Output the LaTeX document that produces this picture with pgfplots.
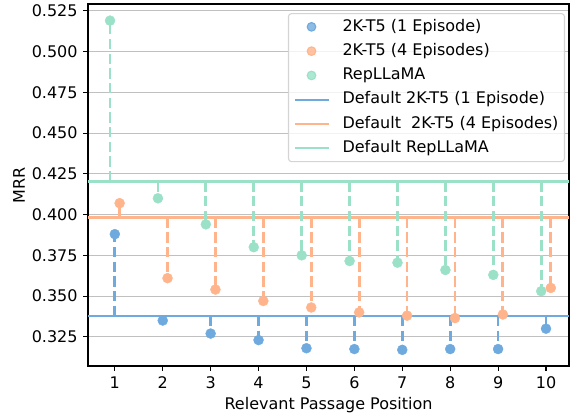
\documentclass[border=0pt]{standalone}
\usepackage{fontspec}
\setmainfont{DejaVu Sans}
\usepackage{pgfplots}
\pgfplotsset{compat=1.18}
\definecolor{cblue}{RGB}{111,170,222}
\definecolor{corange}{RGB}{255,180,140}
\definecolor{cgreen}{RGB}{155,225,200}
\definecolor{gridgray}{RGB}{192,192,192}
\definecolor{legedge}{RGB}{212,212,212}
\begin{document}
\fontsize{16}{19}\selectfont
\begin{tikzpicture}
\begin{axis}[
  scale only axis, width=481pt, height=362pt,
  xmin=0.44, xmax=10.48, ymin=0.3071, ymax=0.5292,
  xtick={1,2,3,4,5,6,7,8,9,10},
  ytick={0.325,0.350,0.375,0.400,0.425,0.450,0.475,0.500,0.525},
  yticklabel style={/pgf/number format/.cd, fixed, fixed zerofill, precision=3},
  /pgf/number format/assume math mode=true,
  tick align=outside, major tick length=4.9pt,
  tick style={black, line width=1.1pt},
  xtick pos=left, ytick pos=left,
  ymajorgrids, grid style={gridgray, line width=1.1pt},
  axis line style={line width=1.1pt},
  xlabel={Relevant Passage Position}, ylabel={MRR},
  every axis x label/.style={at={(axis description cs:0.5,-0.1215)}, anchor=base},
  every axis y label/.style={at={(axis description cs:-0.131,0.5)}, rotate=90, anchor=base},
  legend style={at={(0.9917,0.975)}, anchor=north east, draw=legedge,
    line width=1.1pt, rounded corners=3pt, fill=white, fill opacity=0.8,
    text opacity=1, cells={anchor=west}, row sep=2.8pt, column sep=12pt,
    inner xsep=5pt, inner ysep=2.5pt,
    nodes={text height=12pt, text depth=3.5pt, inner ysep=3pt, inner xsep=1pt}},
  stem/.style={line width=2.8pt, dash pattern=on 10.3pt off 4.4pt, unbounded coords=jump, forget plot},
  base/.style={line width=2.1pt, forget plot},
  pts/.style={only marks, mark=*, mark size=5pt, forget plot},
  linelegend/.style={legend image code/.code={\draw[##1] (0pt,0pt) -- (34pt,0pt);}},
  marklegend/.style={legend image code/.code={\draw[##1, only marks, mark repeat=2, mark phase=2] plot coordinates {(0pt,0pt) (17pt,0pt) (34pt,0pt)};}},
]
% baselines
\addplot[base, cblue] coordinates {(0.44,0.3378) (10.48,0.3378)};
\addplot[base, corange] coordinates {(0.44,0.3982) (10.48,0.3982)};
\addplot[base, cgreen] coordinates {(0.44,0.4203) (10.48,0.4203)};
% stems
\addplot[stem, cgreen] coordinates {
(0.9,0.4203) (0.9,0.519) (0.9,nan)
(1.9,0.4203) (1.9,0.410) (1.9,nan)
(2.9,0.4203) (2.9,0.394) (2.9,nan)
(3.9,0.4203) (3.9,0.380) (3.9,nan)
(4.9,0.4203) (4.9,0.375) (4.9,nan)
(5.9,0.4203) (5.9,0.3715) (5.9,nan)
(6.9,0.4203) (6.9,0.3705) (6.9,nan)
(7.9,0.4203) (7.9,0.366) (7.9,nan)
(8.9,0.4203) (8.9,0.363) (8.9,nan)
(9.9,0.4203) (9.9,0.353)};
\addplot[stem, corange] coordinates {
(1.1,0.3982) (1.1,0.407) (1.1,nan)
(2.1,0.3982) (2.1,0.361) (2.1,nan)
(3.1,0.3982) (3.1,0.354) (3.1,nan)
(4.1,0.3982) (4.1,0.347) (4.1,nan)
(5.1,0.3982) (5.1,0.343) (5.1,nan)
(6.1,0.3982) (6.1,0.340) (6.1,nan)
(7.1,0.3982) (7.1,0.338) (7.1,nan)
(8.1,0.3982) (8.1,0.3365) (8.1,nan)
(9.1,0.3982) (9.1,0.3387) (9.1,nan)
(10.1,0.3982) (10.1,0.355)};
\addplot[stem, cblue] coordinates {
(1,0.3378) (1,0.388) (1,nan)
(2,0.3378) (2,0.335) (2,nan)
(3,0.3378) (3,0.327) (3,nan)
(4,0.3378) (4,0.323) (4,nan)
(5,0.3378) (5,0.318) (5,nan)
(6,0.3378) (6,0.3175) (6,nan)
(7,0.3378) (7,0.317) (7,nan)
(8,0.3378) (8,0.3175) (8,nan)
(9,0.3378) (9,0.3175) (9,nan)
(10,0.3378) (10,0.330)};
% points
\addplot[pts, cgreen] coordinates {(0.9,0.519) (1.9,0.410) (2.9,0.394) (3.9,0.380) (4.9,0.375) (5.9,0.3715) (6.9,0.3705) (7.9,0.366) (8.9,0.363) (9.9,0.353)};
\addplot[pts, corange] coordinates {(1.1,0.407) (2.1,0.361) (3.1,0.354) (4.1,0.347) (5.1,0.343) (6.1,0.340) (7.1,0.338) (8.1,0.3365) (9.1,0.3387) (10.1,0.355)};
\addplot[pts, cblue] coordinates {(1,0.388) (2,0.335) (3,0.327) (4,0.323) (5,0.318) (6,0.3175) (7,0.317) (8,0.3175) (9,0.3175) (10,0.330)};
% legend
\addlegendimage{marklegend, only marks, mark=*, mark size=4.3pt, cblue}
\addlegendentry{2K-T5 (1 Episode)}
\addlegendimage{marklegend, only marks, mark=*, mark size=4.3pt, corange}
\addlegendentry{2K-T5 (4 Episodes)}
\addlegendimage{marklegend, only marks, mark=*, mark size=4.3pt, cgreen}
\addlegendentry{RepLLaMA}
\addlegendimage{linelegend, cblue, line width=2.1pt}
\addlegendentry{Default 2K-T5 (1 Episode)}
\addlegendimage{linelegend, corange, line width=2.1pt}
\addlegendentry{Default~~2K-T5 (4 Episodes)}
\addlegendimage{linelegend, cgreen, line width=2.1pt}
\addlegendentry{Default RepLLaMA}
\end{axis}
\pgfresetboundingbox
\path ([shift={(-88pt,-49pt)}]current axis.south west) rectangle ([shift={(1pt,4pt)}]current axis.north east);
\end{tikzpicture}
\end{document}
